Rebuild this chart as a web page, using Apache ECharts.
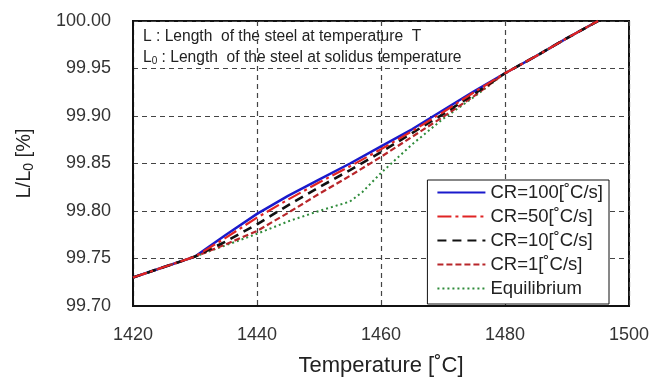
<!DOCTYPE html>
<html><head><meta charset="utf-8">
<script src="https://cdn.jsdelivr.net/npm/echarts@6/dist/echarts.min.js"></script>
<style>html,body{margin:0;padding:0;background:#fff}#c{width:654px;height:391px}</style>
</head><body><div id="c"></div>
<script>
const temperatures = [1420, 1425, 1430, 1435, 1440, 1445, 1450, 1455, 1460, 1465, 1470, 1475, 1480, 1485, 1490, 1495];
const cr100 = [99.730, 99.741, 99.752, 99.775, 99.797, 99.816, 99.833, 99.850, 99.868, 99.886, 99.906, 99.926, 99.945, 99.963, 99.982, 100.000];
const cr50  = [99.730, 99.741, 99.752, 99.772, 99.793, 99.812, 99.830, 99.847, 99.865, 99.884, 99.904, 99.925, 99.945, 99.963, 99.982, 100.000];
const cr10  = [99.730, 99.741, 99.752, 99.768, 99.786, 99.806, 99.825, 99.843, 99.862, 99.882, 99.902, 99.923, 99.945, 99.963, 99.982, 100.000];
const cr1   = [99.730, 99.741, 99.752, 99.765, 99.779, 99.798, 99.818, 99.837, 99.857, 99.878, 99.899, 99.921, 99.945, 99.963, 99.982, 100.000];
const eqT   = [1420, 1425, 1430, 1435, 1440, 1445, 1450, 1455, 1457, 1460, 1465, 1470, 1475, 1480, 1485, 1490, 1495];
const equil = [99.730, 99.741, 99.752, 99.764, 99.776, 99.789, 99.800, 99.810, 99.820, 99.840, 99.870, 99.897, 99.920, 99.945, 99.963, 99.982, 100.000];
const seriesNames = ['CR=100[˚C/s]', 'CR=50[˚C/s]', 'CR=10[˚C/s]', 'CR=1[˚C/s]', 'Equilibrium'];
const xTicks = {min: 1420, max: 1500, step: 20};
const yTicks = {min: 99.70, max: 100.00, step: 0.05};

const zip = (xs, ys) => xs.map((x, i) => [x, ys[i]]);
const font = 'Liberation Sans, Arial, sans-serif';
const chart = echarts.init(document.getElementById('c'));
const mk = (name, xs, ys, color, type, width, z) => ({
  name, type: 'line', data: zip(xs, ys), showSymbol: false, symbol: 'none', z,
  lineStyle: {color, type, width}, itemStyle: {color}
});
chart.setOption({
  animation: false,
  grid: {left: 133, right: 25, top: 21, bottom: 85, show: true, borderColor: '#111', borderWidth: 2},
  xAxis: {
    type: 'value', min: xTicks.min, max: xTicks.max, interval: xTicks.step,
    axisLine: {show: true, lineStyle: {color: '#111', width: 2}},
    axisTick: {show: false},
    axisLabel: {color: '#333', fontSize: 18, fontFamily: font, margin: 20, formatter: v => String(v)},
    splitLine: {show: true, lineStyle: {color: '#444', type: [5, 4], width: 1.2}},
    name: 'Temperature [˚C]', nameLocation: 'middle', nameGap: 49,
    nameTextStyle: {color: '#222', fontSize: 22, fontFamily: font}
  },
  yAxis: {
    type: 'value', min: yTicks.min, max: yTicks.max, interval: yTicks.step,
    axisLine: {show: true, lineStyle: {color: '#111', width: 2}},
    axisTick: {show: false},
    axisLabel: {color: '#333', fontSize: 18, fontFamily: font, margin: 22, formatter: v => v.toFixed(2)},
    splitLine: {show: true, lineStyle: {color: '#444', type: [5, 4], width: 1.2}},
    name: '{a|L/L}{s|0}{a| [%]}', nameLocation: 'middle', nameGap: 97, nameRotate: 90,
    nameTextStyle: {rich: {
      a: {color: '#222', fontSize: 20, fontFamily: font},
      s: {color: '#222', fontSize: 14, fontFamily: font, padding: [10, 0, 0, 0]}
    }}
  },
  legend: {
    orient: 'vertical', right: 45, top: 180, itemGap: 5, itemWidth: 48, itemHeight: 18,
    padding: [3, 6, 6, 9],
    backgroundColor: '#fff', borderColor: '#111', borderWidth: 1,
    itemStyle: {opacity: 0},
    textStyle: {color: '#222', fontSize: 18.5, lineHeight: 18, fontFamily: font, padding: [0, 0, 0, 0]},
    data: seriesNames
  },
  graphic: [
    {type: 'text', left: 143, top: 29, style: {text: 'L : Length  of the steel at temperature  T', fill: '#222', font: '15.6px ' + font}},
    {type: 'text', left: 143, top: 50, style: {
      text: '{a|L}{s|0}{a| : Length  of the steel at solidus temperature}',
      rich: {a: {fill: '#222', font: '15.6px ' + font}, s: {fill: '#222', font: '10px ' + font, padding: [6, 0, 0, 0]}}
    }}
  ],
  series: [
    mk(seriesNames[4], eqT, equil, '#2e8b3a', [2, 3], 2, 1),
    mk(seriesNames[3], temperatures, cr1, '#b8262a', [6, 3], 2.2, 2),
    mk(seriesNames[2], temperatures, cr10, '#111', [9, 6], 2.6, 3),
    mk(seriesNames[1], temperatures, cr50, '#e02424', [14, 4, 3, 4], 2.2, 4),
    mk(seriesNames[0], temperatures, cr100, '#1a1acc', 'solid', 2.5, 0)
  ]
});
</script></body></html>
